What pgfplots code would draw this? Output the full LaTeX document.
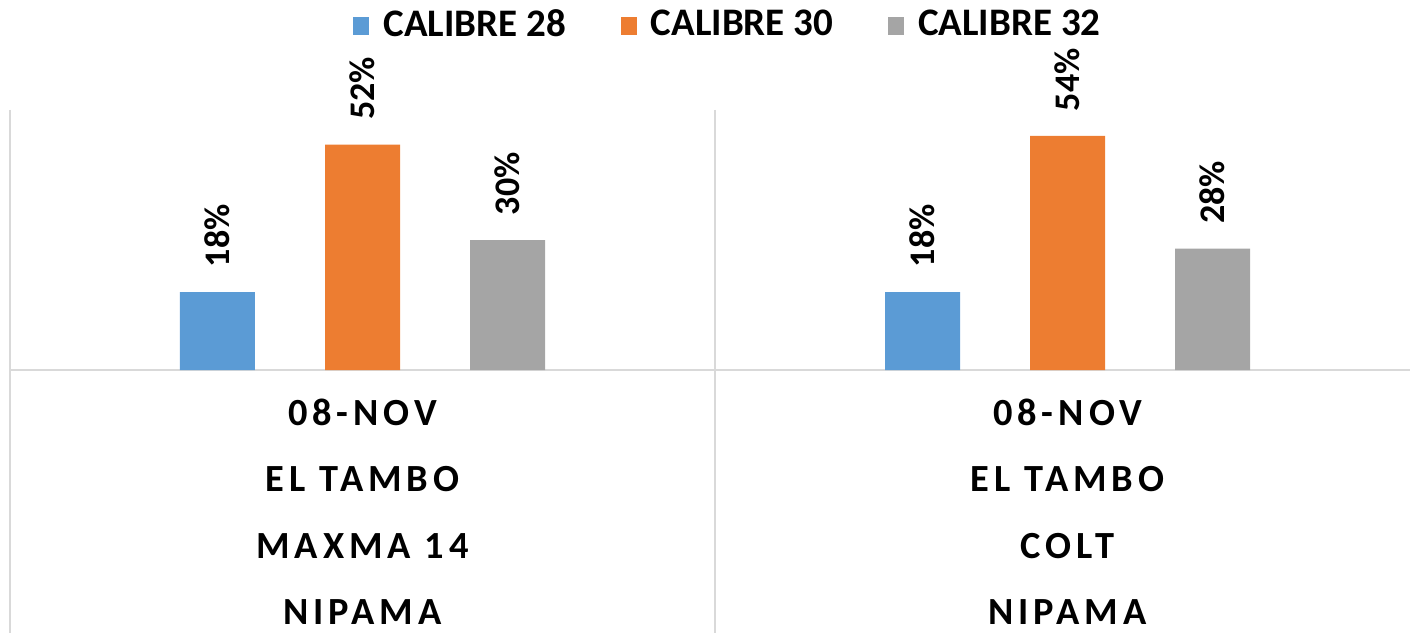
\documentclass[border=0pt]{standalone}
\usepackage{fontspec}
\setmainfont{Carlito}
\newfontfamily\spaced[LetterSpace=13]{Carlito}
\usepackage{pgfplots}
\pgfplotsset{compat=1.18}
\definecolor{c28}{HTML}{5B9BD5}
\definecolor{c30}{HTML}{ED7D31}
\definecolor{c32}{HTML}{A5A5A5}
\definecolor{linec}{HTML}{D9D9D9}

\begin{document}
\begin{tikzpicture}
\begin{axis}[name=ax,width=350pt,height=65pt,scale only axis,
xmin=-0.5,xmax=1.4858,ymin=0,ymax=60,clip=false,
ybar,bar width=0.1064,bar shift=0pt,
axis line style={draw=none},ytick=\empty,major tick length=0pt,
/pgf/number format/assume math mode=true,
xtick={0,1},
xticklabels={{08-NOV\\EL TAMBO\\MAXMA 14\\NIPAMA},{08-NOV\\EL TAMBO\\COLT\\NIPAMA}},
xticklabel style={align=center,font=\spaced\bfseries\fontsize{9.6}{16.6}\selectfont,anchor=north,inner sep=0pt,yshift=-7pt},
nodes near coords={\pgfmathprintnumber{\pgfplotspointmeta}\%},
nodes near coords style={rotate=90,anchor=west,inner xsep=6pt,inner ysep=0pt,font=\bfseries\fontsize{9}{10}\selectfont,text=black},
legend columns=3,
legend style={at={(0.5,1)},anchor=center,xshift=5.25pt,yshift=21pt,draw=none,fill=none,
  font=\bfseries\fontsize{9.75}{11}\selectfont,
  /tikz/every even column/.append style={column sep=11.75pt}},
legend image code/.code={\fill[#1] (0pt,-2.2pt) rectangle (4pt,2.2pt);\path (5.5pt,0pt);},
]
\draw[linec,line width=0.6pt] (axis cs:-0.5,0) -- (axis cs:1.4858,0);
\draw[linec,line width=0.5pt] (axis cs:-0.5,60) -- ([yshift=-65.75pt]axis cs:-0.5,0);
\draw[linec,line width=0.5pt] (axis cs:0.5,60) -- ([yshift=-65.75pt]axis cs:0.5,0);
\addplot[fill=c28,draw=none] coordinates {(-0.2057,18) (0.7943,18)};
\addplot[fill=c30,draw=none] coordinates {(0,52) (1,54)};
\addplot[fill=c32,draw=none] coordinates {(0.2057,30) (1.2057,28)};
\legend{CALIBRE 28,CALIBRE 30,CALIBRE 32}
\end{axis}
\pgfresetboundingbox
\path[use as bounding box] ([xshift=-2.5pt,yshift=-65.75pt]ax.south west) rectangle ([yshift=27.5pt]ax.north east);
\end{tikzpicture}
\end{document}
